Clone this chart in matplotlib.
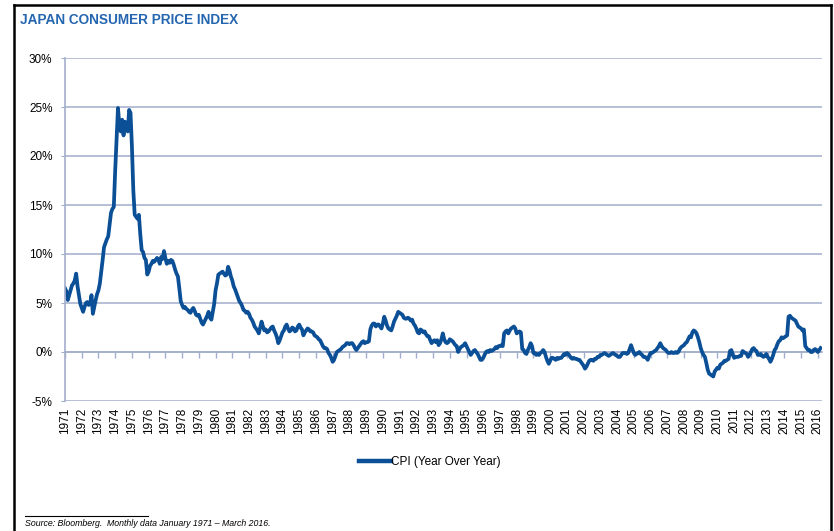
import numpy as np
import matplotlib
matplotlib.use('Agg')
import matplotlib.pyplot as plt
from matplotlib.lines import Line2D

plt.rcParams['font.family'] = ['Liberation Sans', 'DejaVu Sans']

# monthly CPI YoY (%), Jan 1971 .. Mar 2016
cpi_yoy = [
    6.5, 6.2, 5.3, 5.8, 6.3, 6.8, 7.0, 7.3, 8.0, 6.7, 5.8, 4.9,          # 1971
    4.5, 4.1, 4.6, 5.0, 5.1, 4.8, 4.9, 5.8, 3.9, 4.6, 5.3, 5.9,          # 1972
    6.3, 7.0, 8.2, 9.4, 10.7, 11.1, 11.5, 11.8, 13.0, 14.2, 14.6, 14.8,  # 1973
    18.5, 21.6, 24.9, 23.2, 22.5, 23.7, 22.1, 23.5, 23.0, 22.5, 24.7, 24.4,  # 1974
    21.0, 16.5, 14.0, 13.8, 13.6, 14.0, 12.0, 10.4, 10.2, 9.6, 9.4, 7.9,  # 1975
    8.2, 8.8, 9.0, 9.3, 9.2, 9.4, 9.6, 9.4, 9.0, 9.7, 9.5, 10.3,         # 1976
    9.6, 9.0, 9.3, 9.1, 9.4, 9.3, 8.9, 8.4, 8.0, 7.7, 6.5, 5.2,          # 1977
    4.8, 4.5, 4.6, 4.4, 4.3, 4.1, 4.0, 4.3, 4.5, 4.2, 3.8, 3.7,          # 1978
    3.8, 3.4, 3.0, 2.8, 3.1, 3.4, 3.7, 4.1, 3.5, 3.3, 4.1, 4.9,          # 1979
    6.3, 7.0, 7.9, 8.0, 8.1, 8.2, 8.0, 7.8, 7.9, 8.7, 8.3, 7.7,          # 1980
    7.3, 6.7, 6.4, 6.0, 5.6, 5.2, 5.0, 4.7, 4.3, 4.2, 4.0, 4.1,          # 1981
    3.9, 3.5, 3.3, 3.0, 2.6, 2.4, 2.2, 1.9, 2.5, 3.1, 2.6, 2.2,          # 1982
    2.3, 2.0, 2.1, 2.3, 2.5, 2.6, 2.2, 1.9, 1.5, 0.9, 1.2, 1.6,          # 1983
    2.0, 2.2, 2.6, 2.8, 2.4, 2.1, 2.2, 2.5, 2.4, 2.1, 2.2, 2.6,          # 1984
    2.8, 2.5, 2.3, 1.7, 2.0, 2.2, 2.4, 2.3, 2.1, 2.1, 2.0, 1.7,          # 1985
    1.6, 1.5, 1.3, 1.2, 0.9, 0.6, 0.4, 0.4, 0.3, -0.1, -0.3, -0.6,       # 1986
    -1.0, -0.8, -0.4, 0.0, 0.1, 0.2, 0.3, 0.5, 0.6, 0.7, 0.9, 0.9,       # 1987
    0.8, 0.9, 0.9, 0.7, 0.4, 0.2, 0.4, 0.6, 0.8, 1.0, 1.1, 0.9,          # 1988
    1.0, 1.0, 1.1, 2.3, 2.7, 2.9, 2.9, 2.6, 2.8, 2.8, 2.6, 2.4,          # 1989
    2.9, 3.6, 3.2, 2.7, 2.4, 2.3, 2.2, 2.6, 3.1, 3.4, 3.7, 4.1,          # 1990
    4.0, 3.9, 3.8, 3.5, 3.4, 3.4, 3.5, 3.4, 3.2, 3.3, 2.9, 2.7,          # 1991
    2.4, 2.0, 1.9, 2.3, 2.2, 2.0, 2.1, 1.8, 1.6, 1.6, 1.2, 0.9,          # 1992
    1.1, 1.2, 1.0, 1.2, 0.7, 0.9, 1.3, 1.9, 1.3, 1.0, 0.9, 1.0,          # 1993
    1.3, 1.2, 1.1, 0.9, 0.7, 0.6, 0.0, 0.3, 0.5, 0.6, 0.7, 0.9,          # 1994
    0.6, 0.3, 0.0, -0.3, -0.1, 0.1, 0.2, 0.0, -0.2, -0.5, -0.8, -0.8,    # 1995
    -0.6, -0.3, 0.0, 0.1, 0.0, 0.2, 0.1, 0.2, 0.3, 0.5, 0.4, 0.6,        # 1996
    0.6, 0.7, 0.6, 1.9, 2.1, 2.2, 1.9, 2.2, 2.4, 2.5, 2.6, 2.4,          # 1997
    1.9, 2.0, 2.1, 2.0, 0.3, 0.2, -0.1, -0.2, 0.2, 0.5, 0.9, 0.6,        # 1998
    -0.1, -0.1, -0.3, -0.2, -0.3, -0.1, 0.0, 0.2, 0.0, -0.5, -0.9, -1.2,  # 1999
    -0.9, -0.6, -0.6, -0.7, -0.8, -0.6, -0.7, -0.6, -0.6, -0.4, -0.2, -0.3,  # 2000
    -0.1, -0.2, -0.4, -0.6, -0.7, -0.6, -0.7, -0.7, -0.8, -0.8, -1.0, -1.2,  # 2001
    -1.4, -1.7, -1.5, -1.2, -0.9, -0.8, -0.8, -0.9, -0.7, -0.7, -0.5, -0.5,  # 2002
    -0.3, -0.3, -0.2, -0.1, -0.2, -0.3, -0.4, -0.3, -0.2, -0.1, -0.2, -0.3,  # 2003
    -0.4, -0.5, -0.5, -0.3, -0.1, -0.1, -0.1, -0.2, -0.1, 0.3, 0.7, 0.3,     # 2004
    -0.1, -0.3, -0.2, -0.1, 0.0, -0.2, -0.3, -0.5, -0.5, -0.6, -0.8, -0.4,   # 2005
    -0.1, -0.1, 0.0, 0.1, 0.2, 0.4, 0.6, 0.9, 0.6, 0.4, 0.3, 0.2,        # 2006
    0.0, -0.1, -0.1, 0.0, -0.1, -0.1, 0.0, -0.1, 0.0, 0.3, 0.5, 0.6,     # 2007
    0.7, 0.9, 1.0, 1.3, 1.6, 1.5, 2.0, 2.2, 2.1, 1.9, 1.5, 1.0,          # 2008
    0.4, 0.0, -0.3, -0.5, -1.1, -1.8, -2.2, -2.3, -2.4, -2.5, -2.0, -1.8,  # 2009
    -1.6, -1.7, -1.3, -1.2, -1.1, -0.9, -0.9, -0.8, -0.7, 0.1, 0.2, -0.3,  # 2010
    -0.6, -0.5, -0.5, -0.5, -0.4, -0.4, 0.1, 0.0, -0.1, -0.2, -0.5, -0.3,  # 2011
    0.0, 0.3, 0.4, 0.2, 0.1, -0.3, -0.3, -0.2, -0.4, -0.5, -0.4, -0.2,   # 2012
    -0.5, -0.7, -1.0, -0.7, -0.3, 0.2, 0.4, 0.8, 1.1, 1.2, 1.5, 1.4,     # 2013
    1.5, 1.6, 1.7, 3.6, 3.7, 3.5, 3.4, 3.3, 3.2, 2.9, 2.6, 2.5,          # 2014
    2.4, 2.2, 2.3, 0.6, 0.4, 0.2, 0.2, 0.0, 0.0, 0.2, 0.3, 0.2,          # 2015
    0.0, 0.2, 0.4,                                                       # 2016
]
years = [str(y) for y in range(1971, 2017)]
y_ticks = [-5, 0, 5, 10, 15, 20, 25, 30]

line_col = '#0B4F96'
grid_col = '#A3AECB'
title_col = '#2566B0'

fig = plt.figure(figsize=(8.34, 5.31), dpi=100)
ax = fig.add_axes([65/834, 1 - 401/531, (822 - 65)/834, 343/531])

x = np.arange(len(cpi_yoy))
ax.plot(x, cpi_yoy, color=line_col, lw=2.7, solid_joinstyle='round')

ax.set_ylim(-5, 30)
ax.set_xlim(0, 543)
ax.set_yticks(y_ticks)
ax.set_yticklabels([f'{v}%' for v in y_ticks], fontsize=8.5)
ax.yaxis.grid(True, color=grid_col, lw=1.1)
ax.set_axisbelow(True)

tick_pos = np.arange(len(years)) * 12
ax.set_xticks(tick_pos)
ax.set_xticklabels(years, rotation=90, fontsize=8.5)
ax.tick_params(axis='x', length=0, pad=5)
ax.tick_params(axis='y', length=3, color=grid_col, pad=6)

for s in ['top', 'right', 'bottom']:
    ax.spines[s].set_visible(False)
ax.spines['left'].set_color(grid_col)
ax.spines['left'].set_linewidth(1.2)

# axis line with tick marks at 0%
sec = ax.secondary_xaxis(5/35)
sec.set_xticks(tick_pos)
sec.set_xticklabels([])
sec.tick_params(length=4, color=grid_col, width=1)
sec.spines['bottom'].set_color(grid_col)
sec.spines['bottom'].set_linewidth(1.2)

# title
fig.text(20/834, 1 - 20/531, 'JAPAN CONSUMER PRICE INDEX', fontsize=9.8,
         fontweight='bold', color=title_col, va='center', ha='left')

# legend
handles = [Line2D([0], [0], color=line_col, lw=3.2, label='CPI (Year Over Year)')]
fig.legend(handles=handles, loc='center', bbox_to_anchor=(430/834, 1 - 462/531),
           frameon=False, fontsize=8.5, handlelength=2.7, handletextpad=0.05)

# source note
fig.add_artist(Line2D([25/834, 148/834], [1 - 516/531, 1 - 516/531],
                      color='black', lw=0.8))
fig.text(25/834, 1 - 523/531,
         'Source: Bloomberg.  Monthly data January 1971 \u2013 March 2016.',
         fontsize=6.3, style='italic', va='center', ha='left')

# outer frame
fig.add_artist(Line2D([14/834, 14/834], [0, 1 - 5/531], color='black', lw=1.8))
fig.add_artist(Line2D([14/834, 831/834], [1 - 5/531, 1 - 5/531], color='black', lw=1.8))
fig.add_artist(Line2D([831/834, 831/834], [0, 1 - 5/531], color='black', lw=1.8))

fig.savefig('out.png', dpi=100)
